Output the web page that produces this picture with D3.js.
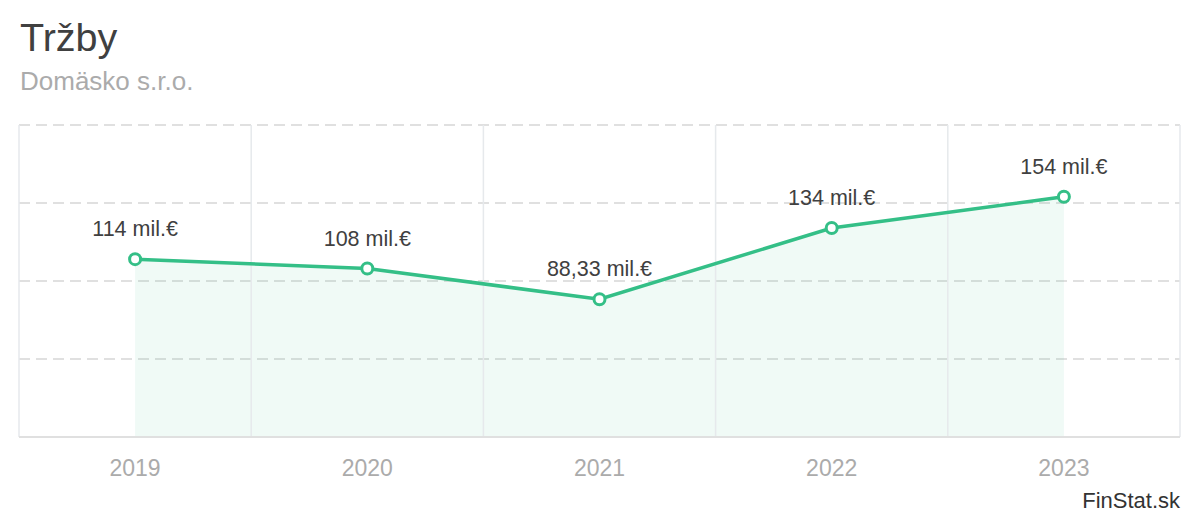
<!DOCTYPE html>
<html><head><meta charset="utf-8">
<script src="https://cdn.jsdelivr.net/npm/d3@7"></script>
<style>body{margin:0;background:#fff}svg{display:block;font-family:"Liberation Sans",Arial,sans-serif}</style>
</head><body><svg id="c" width="1200" height="520"></svg>
<script>
const categories = ["2019","2020","2021","2022","2023"];
const values = [114, 108, 88.33, 134, 154];
const labels = ["114 mil.€","108 mil.€","88,33 mil.€","134 mil.€","154 mil.€"];
const yTicks = [0, 50, 100, 150, 200];
const title = "Tržby";
const subtitle = "Domäsko s.r.o.";
const credit = "FinStat.sk";

const svg = d3.select("#c");
const L = 19, R = 1180, T = 125, B = 437;
const x = d3.scaleBand().domain(categories).range([L, R]);
const y = d3.scaleLinear().domain([0, 200]).range([B, T]);
const cx = d => x(d) + x.bandwidth() / 2;

svg.append("text").attr("x", 20).attr("y", 51).attr("font-size", 39.5).attr("fill", "#404040").text(title);
svg.append("text").attr("x", 20).attr("y", 90).attr("font-size", 26).attr("fill", "#ababab").text(subtitle);

// horizontal dashed gridlines
svg.append("g").selectAll("line").data(yTicks.filter(t => t > 0)).join("line")
  .attr("x1", L).attr("x2", R).attr("y1", d => y(d)).attr("y2", d => y(d))
  .attr("stroke", "#e0e0e0").attr("stroke-width", 2).attr("stroke-dasharray", "11,6");

// area
const pts = categories.map((c, i) => ({c, v: values[i], l: labels[i]}));
svg.append("path").datum(pts)
  .attr("d", d3.area().x(d => cx(d.c)).y0(y(0)).y1(d => y(d.v)))
  .attr("fill", "#33bf85").attr("fill-opacity", 0.075);

// vertical gridlines
const vx = categories.map(c => x(c)).concat([R]);
svg.append("g").selectAll("line").data(vx).join("line")
  .attr("x1", d => d).attr("x2", d => d).attr("y1", T).attr("y2", B)
  .attr("stroke", "#e6e9ec").attr("stroke-width", 1.5);

// baseline
svg.append("line").attr("x1", L).attr("x2", R).attr("y1", B).attr("y2", B)
  .attr("stroke", "#e0e0e0").attr("stroke-width", 2);

// line
svg.append("path").datum(pts)
  .attr("d", d3.line().x(d => cx(d.c)).y(d => y(d.v)))
  .attr("fill", "none").attr("stroke", "#34bf87").attr("stroke-width", 3.5);

svg.append("g").selectAll("circle").data(pts).join("circle")
  .attr("cx", d => cx(d.c)).attr("cy", d => y(d.v)).attr("r", 5.5)
  .attr("fill", "#fff").attr("stroke", "#34bf87").attr("stroke-width", 3);

svg.append("g").selectAll("text").data(pts).join("text")
  .attr("x", d => cx(d.c)).attr("y", d => y(d.v) - 23).attr("text-anchor", "middle")
  .attr("font-size", 21.5).attr("fill", "#404040").text(d => d.l);

// x axis labels
svg.append("g").selectAll("text").data(categories).join("text")
  .attr("x", d => cx(d)).attr("y", 476).attr("text-anchor", "middle")
  .attr("font-size", 23).attr("fill", "#ababab").text(d => d);

svg.append("text").attr("x", 1180).attr("y", 508).attr("text-anchor", "end")
  .attr("font-size", 22).attr("fill", "#333").text(credit);
</script></body></html>
